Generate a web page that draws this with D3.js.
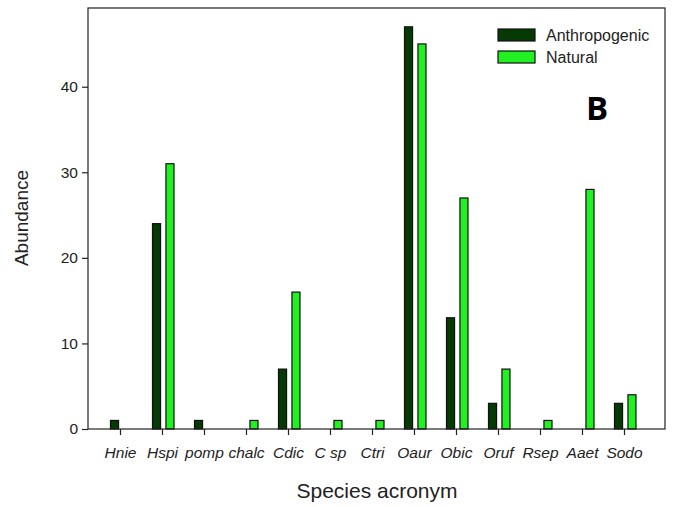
<!DOCTYPE html>
<html>
<head>
<meta charset="utf-8">
<script src="https://cdn.jsdelivr.net/npm/d3@7"></script>
<style>
  html, body { margin: 0; padding: 0; background: #fff; }
  svg { display: block; font-family: "Liberation Sans", Arial, sans-serif; }
</style>
</head>
<body>
<svg id="chart" width="676" height="507"></svg>
<script>
// Species abundance by habitat type
const species = ["Hnie", "Hspi", "pomp", "chalc", "Cdic", "C sp", "Ctri", "Oaur", "Obic", "Oruf", "Rsep", "Aaet", "Sodo"];
const anthropogenic = [1, 24, 1, 0, 7, 0, 0, 47, 13, 3, 0, 0, 3];
const natural = [0, 31, 0, 1, 16, 1, 1, 45, 27, 7, 1, 28, 4];
const seriesNames = ["Anthropogenic", "Natural"];
const seriesColors = ["#053a05", "#22f022"];
const yTicks = [0, 10, 20, 30, 40];

const svg = d3.select("#chart");
const frame = { left: 88, right: 665, top: 8, bottom: 429 };

const x = d3.scalePoint().domain(species).range([120, 624]);
const sub = d3.scaleBand().domain(seriesNames).range([-9.5, 12]).paddingInner(0.4);
const y = d3.scaleLinear().domain([0, 49.2]).range([frame.bottom, frame.top]);

const rows = species.map((s, i) => ({ s, vals: [anthropogenic[i], natural[i]] }));

// bars
const groups = svg.append("g").selectAll("g")
  .data(rows).join("g")
  .attr("transform", d => `translate(${x(d.s)},0)`);

groups.selectAll("rect")
  .data(d => d.vals.map((v, k) => ({ v, k })).filter(e => e.v > 0))
  .join("rect")
  .attr("x", e => sub(seriesNames[e.k]))
  .attr("width", sub.bandwidth())
  .attr("y", e => y(e.v))
  .attr("height", e => y(0) - y(e.v))
  .attr("fill", e => seriesColors[e.k])
  .attr("stroke", "#111")
  .attr("stroke-width", 1.2);

// frame
svg.append("rect")
  .attr("x", frame.left).attr("y", frame.top)
  .attr("width", frame.right - frame.left).attr("height", frame.bottom - frame.top)
  .attr("fill", "none").attr("stroke", "#222").attr("stroke-width", 1.2);

// y axis
const yAxis = svg.append("g")
  .attr("transform", `translate(${frame.left},0)`)
  .call(d3.axisLeft(y).tickValues(yTicks).tickSize(6).tickPadding(4));
yAxis.select(".domain").remove();
yAxis.selectAll("line").attr("stroke", "#222").attr("stroke-width", 1.2);
yAxis.selectAll("text").attr("font-size", 15.5).attr("fill", "#222")
  .attr("font-family", "Liberation Sans, Arial, sans-serif");

// x axis
const xAxis = svg.append("g")
  .attr("transform", `translate(0,${frame.bottom})`)
  .call(d3.axisBottom(x).tickSize(6).tickPadding(12));
xAxis.select(".domain").remove();
xAxis.selectAll("line").attr("stroke", "#222").attr("stroke-width", 1.2);
xAxis.selectAll("text").attr("font-size", 15.5).attr("fill", "#222")
  .attr("font-style", "italic")
  .attr("font-family", "Liberation Sans, Arial, sans-serif");

// axis titles
svg.append("text")
  .attr("x", 377).attr("y", 498)
  .attr("text-anchor", "middle").attr("font-size", 21).attr("fill", "#222")
  .text("Species acronym");
svg.append("text")
  .attr("transform", "translate(28,218) rotate(-90)")
  .attr("text-anchor", "middle").attr("font-size", 19).attr("fill", "#222")
  .text("Abundance");

// legend
const legend = svg.append("g").attr("transform", "translate(498,29)");
const items = legend.selectAll("g").data(seriesNames).join("g")
  .attr("transform", (d, i) => `translate(0,${i * 22})`);
items.append("rect")
  .attr("width", 37).attr("height", 12)
  .attr("fill", (d, i) => seriesColors[i])
  .attr("stroke", "#111").attr("stroke-width", 1.2);
items.append("text")
  .attr("x", 48).attr("y", 12)
  .attr("font-size", 16).attr("fill", "#222")
  .text(d => d);

// panel letter
svg.append("text")
  .attr("x", 597).attr("y", 120)
  .attr("text-anchor", "middle")
  .attr("font-size", 33).attr("font-weight", "bold").attr("fill", "#000")
  .attr("font-family", "Open Sans, Liberation Sans, sans-serif")
  .text("B");
</script>
</body>
</html>
